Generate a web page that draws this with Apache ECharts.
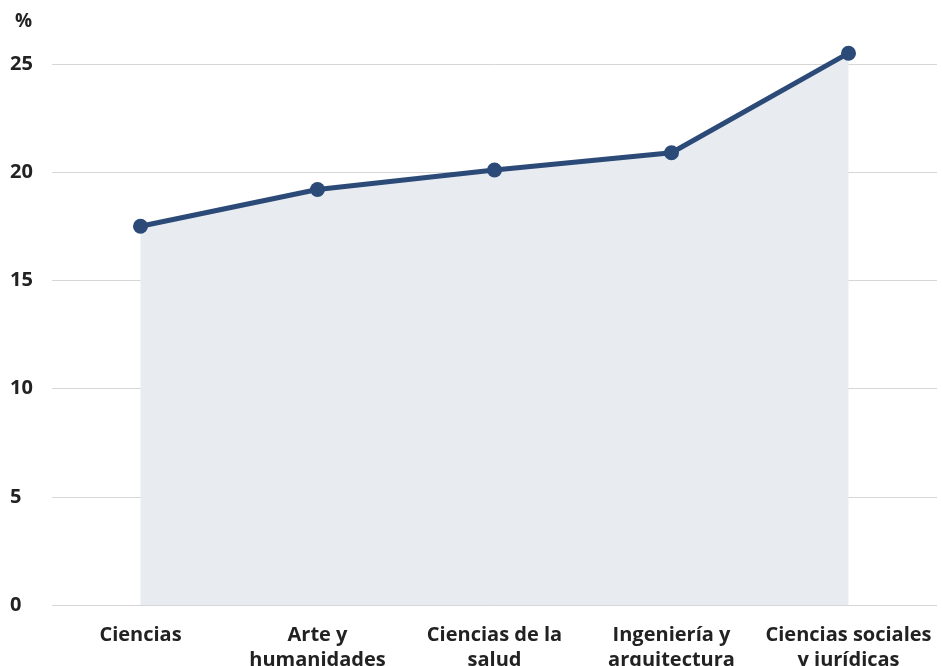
<!DOCTYPE html>
<html>
<head>
<meta charset="utf-8">
<script src="https://cdn.jsdelivr.net/npm/echarts@6/dist/echarts.min.js"></script>
<style>html,body{margin:0;padding:0;background:#fff;overflow:hidden}#c{width:943px;height:666px}</style>
</head>
<body>
<div id="c"></div>
<script>
const categories = ['Ciencias', 'Arte y\nhumanidades', 'Ciencias de la\nsalud', 'Ingeniería y\narquitectura', 'Ciencias sociales\ny jurídicas'];
const values = [17.5, 19.2, 20.1, 20.9, 25.5];
const yTicks = [0, 5, 10, 15, 20, 25];

const FONT = "'Open Sans', sans-serif";
const chart = echarts.init(document.getElementById('c'));
chart.setOption({
  animation: false,
  title: {
    text: '%', left: 10, top: 7,
    textStyle: { fontFamily: FONT, fontWeight: 'bold', fontSize: 19, color: '#222' }
  },
  grid: { left: 52, right: 6, top: 64, bottom: 61, containLabel: false, outerBoundsMode: 'none' },
  xAxis: {
    type: 'category',
    data: categories,
    boundaryGap: true,
    axisLine: { show: false },
    axisTick: { show: false },
    axisLabel: {
      margin: 18, interval: 0,
      fontFamily: FONT, fontWeight: 'bold', fontSize: 20, color: '#222', lineHeight: 25
    }
  },
  yAxis: {
    type: 'value',
    min: yTicks[0], max: yTicks[yTicks.length - 1], interval: 5,
    axisLine: { show: false },
    axisTick: { show: false },
    splitLine: { lineStyle: { color: '#d6d6d6', width: 1 } },
    axisLabel: {
      align: 'left', margin: 42, padding: [4, 0, 0, 0],
      fontFamily: FONT, fontWeight: 'bold', fontSize: 20, color: '#222'
    }
  },
  series: [{
    type: 'line',
    data: values,
    clip: false,
    symbol: 'circle',
    symbolSize: 15,
    lineStyle: { color: '#2b4a78', width: 5 },
    itemStyle: { color: '#2b4a78' },
    areaStyle: { color: '#e8ecf1', opacity: 1 }
  }]
});
</script>
</body>
</html>
